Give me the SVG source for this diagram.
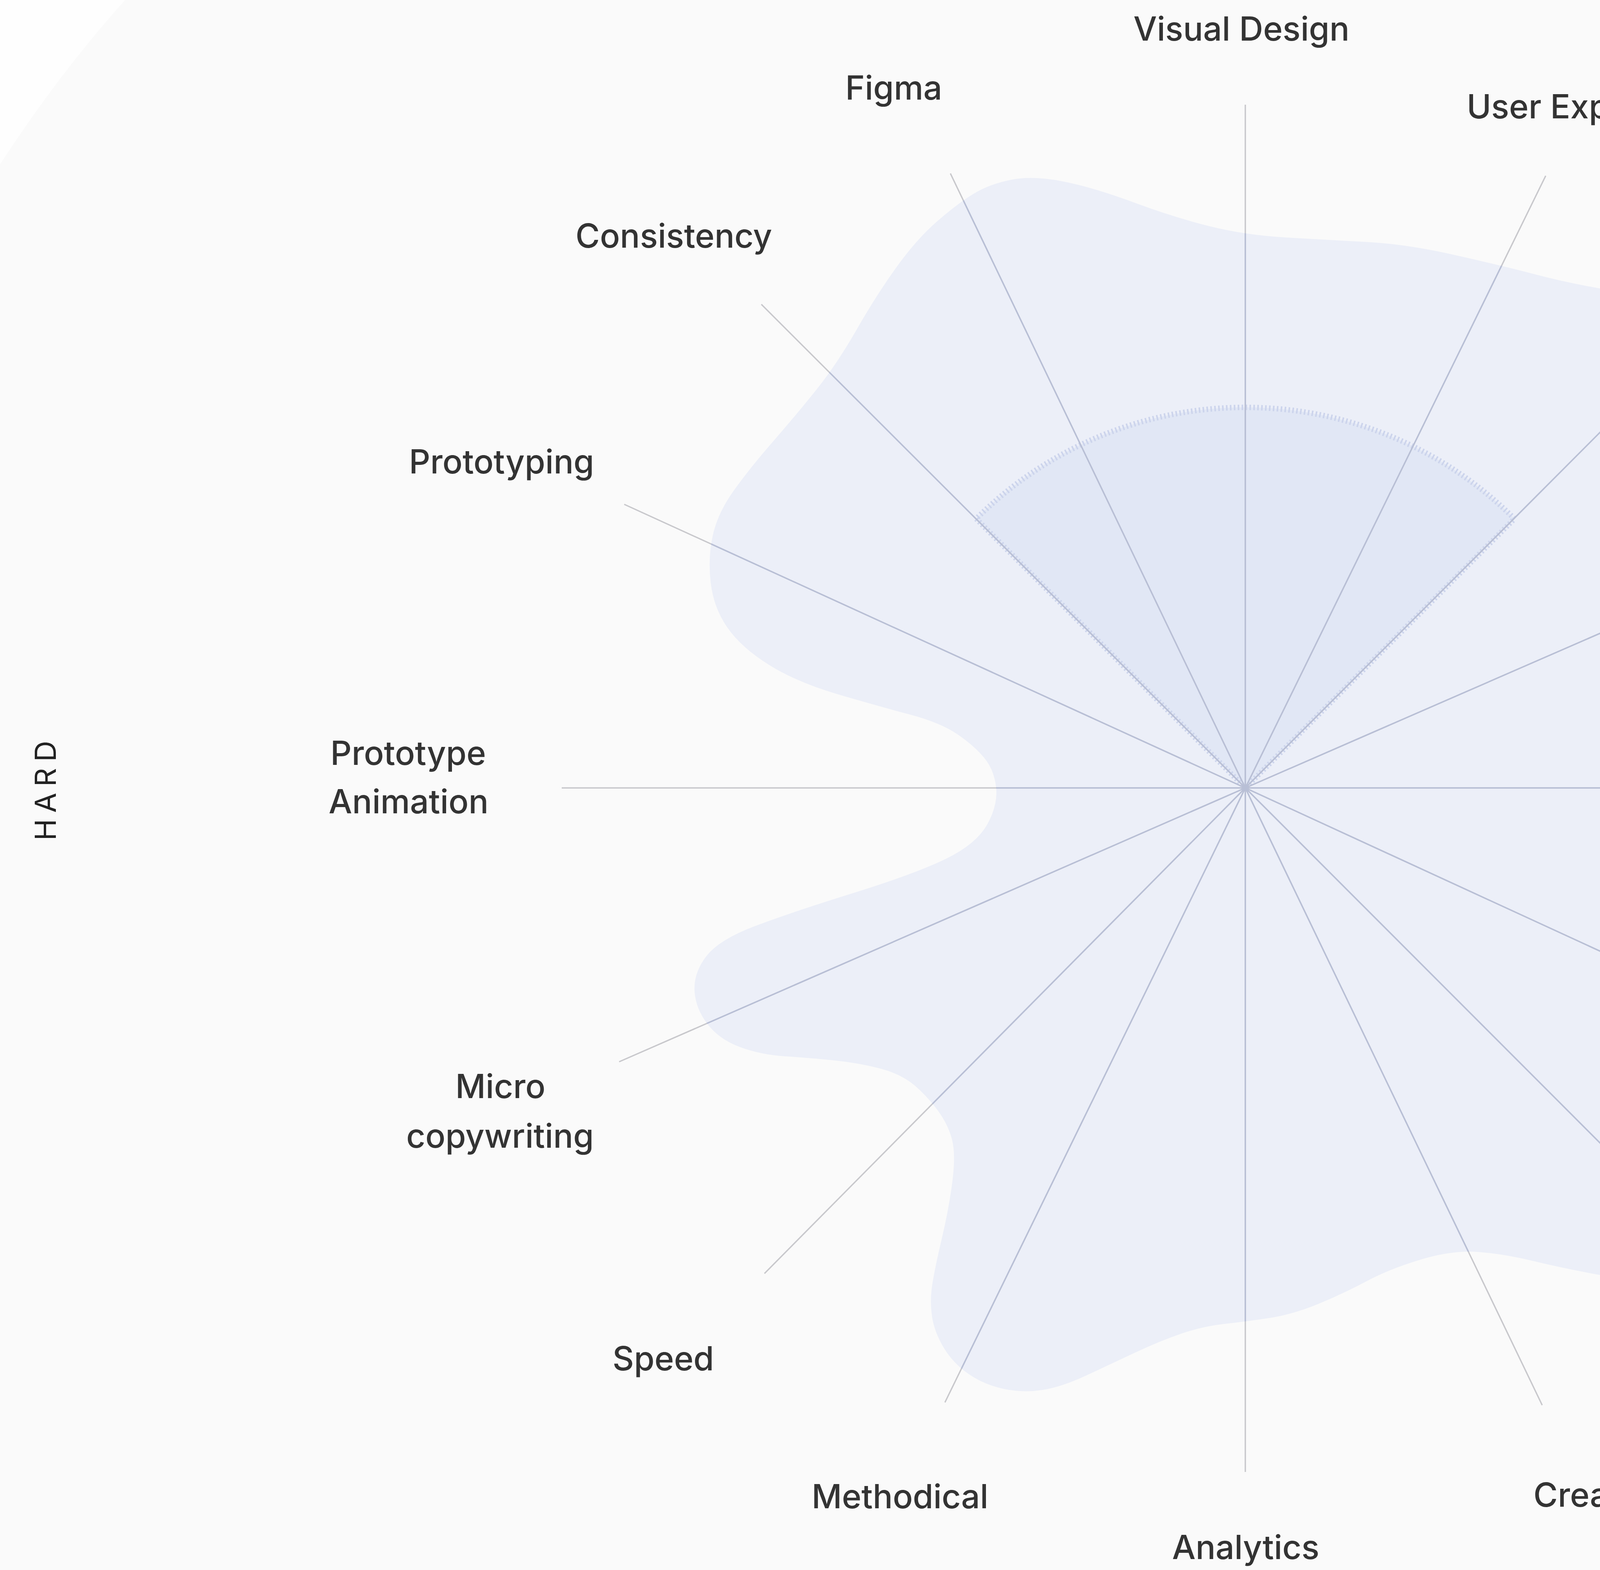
<svg xmlns="http://www.w3.org/2000/svg" width="6339" height="4019" viewBox="0 0 6339 4019">
<style>
.lbl{font-family:Inter,"Noto Sans","Liberation Sans",sans-serif;font-size:85px;font-weight:500;fill:#333333;text-anchor:middle}
.side{font-family:Inter,"Noto Sans","Liberation Sans",sans-serif;font-size:74px;font-weight:400;fill:#222222;text-anchor:middle;letter-spacing:16px}
.sp{stroke:#c8c8cc;stroke-width:3.5;fill:none}
.spb{stroke:#b8bfd6;stroke-width:3.5;fill:none}
</style>
<defs>
<path id="blobPath" d="M2587,460.5 Q2643,449 2721.5,464.5 Q2800,480 2902,518 Q3004,556 3096,579 Q3188,602 3294,608 Q3400,614 3500,619.5 Q3600,625 3720.5,652 Q3841,679 3932.5,703 Q4024,727 4127,743.5 Q4230,760 4287,782.5 Q4344,805 4384.5,845 Q4425,885 4448,937 Q4471,989 4476.5,1074.5 Q4482,1160 4493.5,1264 Q4505,1368 4539.5,1431 Q4574,1494 4631.5,1563 Q4689,1632 4746.5,1700.5 Q4804,1769 4832.5,1838 Q4861,1907 4858,1964.5 Q4855,2022 4829.5,2068.5 Q4804,2115 4746.5,2172.5 Q4689,2230 4603,2298.5 Q4517,2367 4459.5,2424.5 Q4402,2482 4379,2539.5 Q4356,2597 4355.5,2658.5 Q4355,2720 4372.5,2800 Q4390,2880 4404.5,2956.5 Q4419,3033 4410.5,3079 Q4402,3125 4373,3165 Q4344,3205 4298.5,3234 Q4253,3263 4206.5,3269.5 Q4160,3276 4080,3261 Q4000,3246 3925,3228 Q3850,3210 3785,3205 Q3720,3200 3640,3223.5 Q3560,3247 3497,3280.5 Q3434,3314 3371,3339.5 Q3308,3365 3249,3374 Q3190,3383 3135,3389 Q3080,3395 3025.5,3413.5 Q2971,3432 2908,3461.5 Q2845,3491 2782,3520.5 Q2719,3550 2669.5,3558 Q2620,3566 2570,3555.5 Q2520,3545 2480,3517.5 Q2440,3490 2416,3450 Q2392,3410 2386,3370.5 Q2380,3331 2386.5,3289 Q2393,3247 2411.5,3168.5 Q2430,3090 2438.5,3021 Q2447,2952 2436.5,2914.5 Q2426,2877 2401,2843 Q2376,2809 2342.5,2779.5 Q2309,2750 2254,2735.5 Q2199,2721 2136,2714.5 Q2073,2708 2010,2704 Q1947,2700 1893.5,2680 Q1840,2660 1810,2620 Q1780,2580 1778,2535 Q1776,2490 1808,2448 Q1840,2406 1930.5,2371.5 Q2021,2337 2183,2286.5 Q2345,2236 2422.5,2198 Q2500,2160 2527.5,2110 Q2555,2060 2550,2015.5 Q2545,1971 2520,1940.5 Q2495,1910 2451.5,1880 Q2408,1850 2329,1829 Q2250,1808 2145.5,1777.5 Q2041,1747 1969.5,1702.5 Q1898,1658 1862.5,1607 Q1827,1556 1819.5,1492.5 Q1812,1429 1824.5,1371.5 Q1837,1314 1878,1256.5 Q1919,1199 1980,1129 Q2041,1059 2092,995 Q2143,931 2194,842 Q2245,753 2296,682.5 Q2347,612 2398,567.5 Q2449,523 2490,497.5 Q2531,472 2587,460.5 Z"/>
<clipPath id="blobClip"><use href="#blobPath"/></clipPath>
<g id="spokeSet">
<line x1="3188" y1="2017" x2="3188" y2="268"/>
<line x1="3188" y1="2017" x2="3957" y2="450"/>
<line x1="3188" y1="2017" x2="4422" y2="780"/>
<line x1="3188" y1="2017" x2="4792" y2="1318"/>
<line x1="3188" y1="2017" x2="4939" y2="2017"/>
<line x1="3188" y1="2017" x2="4777" y2="2748"/>
<line x1="3188" y1="2017" x2="4425" y2="3255"/>
<line x1="3188" y1="2017" x2="3948" y2="3597"/>
<line x1="3188" y1="2017" x2="3188" y2="3768"/>
<line x1="3188" y1="2017" x2="2419" y2="3590"/>
<line x1="3188" y1="2017" x2="1957" y2="3260"/>
<line x1="3188" y1="2017" x2="1585" y2="2718"/>
<line x1="3188" y1="2017" x2="1438" y2="2017"/>
<line x1="3188" y1="2017" x2="1598" y2="1291"/>
<line x1="3188" y1="2017" x2="1949" y2="779"/>
<line x1="3188" y1="2017" x2="2433" y2="444"/>
</g>
</defs>
<rect id="background" x="0" y="0" width="6339" height="4019" fill="#fafafa"/>
<path id="corner" d="M0,0 L320,0 Q150,190 0,421 Z" fill="#fefefe"/>
<g id="blob">
<use href="#blobPath" fill="#eceff8"/>
</g>
<g id="focus-sector">
<path d="M3188,2017 L2499,1328 A975,975 0 0 1 3877,1328 Z" fill="#e1e7f5" stroke="#ccd4ec" stroke-width="14" stroke-dasharray="4 6"/>
</g>
<g id="connectors">
<use href="#spokeSet" class="sp"/>
<g clip-path="url(#blobClip)"><use href="#spokeSet" class="spb"/></g>
</g>
<g id="node-visual-design"><text class="lbl" x="3178" y="104">Visual Design</text></g>
<g id="node-user-experience"><text class="lbl" x="4090" y="303">User Experience</text></g>
<g id="node-serviceability"><text class="lbl" x="4719" y="631">Serviceability</text></g>
<g id="node-proactivity"><text class="lbl" x="5093" y="1247">Proactivity</text></g>
<g id="node-responsibility"><text class="lbl" x="5405" y="2051">Responsibility</text></g>
<g id="node-mentoring"><text class="lbl" x="5135" y="2909">Mentoring</text></g>
<g id="node-presentation"><text class="lbl" x="4762" y="3504">Presentation</text></g>
<g id="node-creativity"><text class="lbl" x="4122" y="3857">Creativity</text></g>
<g id="node-analytics"><text class="lbl" x="3189" y="3991">Analytics</text></g>
<g id="node-methodical"><text class="lbl" x="2304" y="3861">Methodical</text></g>
<g id="node-speed"><text class="lbl" x="1698" y="3508">Speed</text></g>
<g id="node-micro-copywriting"><text class="lbl" x="1281" y="2811">Micro</text><text class="lbl" x="1280" y="2938">copywriting</text></g>
<g id="node-prototype-animation"><text class="lbl" x="1045" y="1958">Prototype</text><text class="lbl" x="1046" y="2082">Animation</text></g>
<g id="node-prototyping"><text class="lbl" x="1284" y="1212">Prototyping</text></g>
<g id="node-consistency"><text class="lbl" x="1725" y="634">Consistency</text></g>
<g id="node-figma"><text class="lbl" x="2288" y="255">Figma</text></g>
<g id="axis-hard"><text class="side" transform="translate(143,2016) rotate(-90)">HARD</text></g>
<g id="axis-soft"><text class="side" transform="translate(6198,1995) rotate(90)">SOFT</text></g>
</svg>
